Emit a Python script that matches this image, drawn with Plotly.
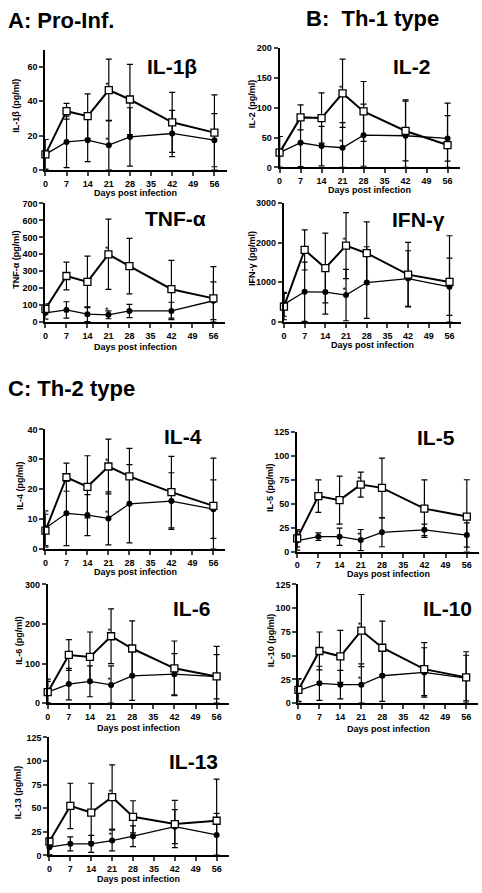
import plotly.graph_objects as go

W, H = 482, 893
FONT = "Arial, Liberation Sans, sans-serif"

days = [0, 7, 14, 21, 28, 42, 56]
x_ticks = [0, 7, 14, 21, 28, 35, 42, 49, 56]

# ---- data (open squares = upper series, filled circles = lower series) ----
il1b_sq = [9, 34.2, 31.3, 46.5, 41, 27.7, 21.7]
il1b_sq_err = [8.7, 4.6, 13, 18, 20.5, 17.5, 22]
il1b_ci = [9, 16.3, 17.3, 14.4, 19.2, 21.2, 17.3]
il1b_ci_err = [8.7, 15, 12.5, 14.4, 17, 13.5, 15.5]

il2_sq = [24.8, 83.7, 82.6, 124, 93.7, 61, 37.5]
il2_sq_err = [27, 21, 42, 57, 50, 50, 70]
il2_ci = [24.8, 41.3, 35.8, 33, 54, 53, 48.5]
il2_ci_err = [27, 40, 33, 42, 52, 60, 38]

tnf_sq = [77.8, 272, 237, 400, 330, 194, 140]
tnf_sq_err = [30, 82, 152, 207, 164, 170, 187]
tnf_ci = [54.5, 72, 46.7, 42.8, 66, 66, 126]
tnf_ci_err = [37, 48, 44, 23, 39, 51, 111]

ifn_sq = [389, 1815, 1359, 1923, 1732, 1193, 1011]
ifn_sq_err = [330, 505, 878, 828, 787, 812, 1160]
ifn_ci = [447, 762, 754, 680, 994, 1094, 887]
ifn_ci_err = [300, 746, 555, 646, 900, 700, 720]

il4_sq = [6.1, 24, 20.8, 27.6, 24.3, 19, 14.4]
il4_sq_err = [5.5, 4.7, 10.4, 9.2, 9.4, 12, 16]
il4_ci = [6.9, 11.9, 11.3, 10.2, 15.1, 16, 13.3]
il4_ci_err = [5.8, 10.8, 6.9, 8.9, 13.1, 9.5, 9.8]

il5_sq = [13.8, 57.9, 53.7, 69.9, 66.5, 44.8, 36.5]
il5_sq_err = [9, 17, 25, 13, 31, 30, 38.5]
il5_ci = [11.4, 15.5, 15.5, 12, 20, 22.7, 17.2]
il5_ci_err = [10, 4, 9, 11, 15, 6, 12.7]

il6_sq = [27.5, 121.7, 116.7, 169, 138, 88, 67.5]
il6_sq_err = [27.5, 39, 63, 69, 70, 69, 76]
il6_ci = [27.5, 48, 55, 46, 69, 73, 66.7]
il6_ci_err = [33, 40, 39, 48, 62, 52, 56]

il10_sq = [13.9, 54.9, 49.3, 76.4, 58.3, 35.8, 27.1]
il10_sq_err = [12, 20, 27.4, 38, 28, 28, 27]
il10_ci = [13.2, 20.8, 19.4, 19.4, 28.8, 32.3, 26.4]
il10_ci_err = [12, 18, 15, 22, 27, 26, 24]

il13_sq = [14.7, 52.4, 45.4, 61.8, 40.9, 33.2, 36.7]
il13_sq_err = [4, 24, 31, 34, 17, 25, 44]
il13_ci = [8.7, 12.2, 12.2, 15.7, 20.3, 30.4, 21.6]
il13_ci_err = [8, 7.5, 9, 11, 11, 18, 23]

# ---- layout geometry (pixels) ----
# name, ytitle, ymax, dtick, x0px, x60px, y0px(bottom), ytop px, label (x,y), ytitle x, days-label y
panels = [
    ("IL-1β", "IL-1β (pg/ml)", 70, 20, 42.7, 224.9, 166.7, 45.3, (170, 62), 13, 190,
     il1b_sq, il1b_sq_err, il1b_ci, il1b_ci_err),
    ("IL-2", "IL-2 (pg/ml)", 200, 50, 278.3, 459.4, 164.3, 43.3, (411, 62), 250, 187,
     il2_sq, il2_sq_err, il2_ci, il2_ci_err),
    ("TNF-α", "TNF-α (pg/ml)", 700, 100, 42.7, 223.8, 320.7, 200.7, (174, 216), 13, 346,
     tnf_sq, tnf_sq_err, tnf_ci, tnf_ci_err),
    ("IFN-γ", "IFN-γ (pg/ml)", 3000, 1000, 282.7, 461.2, 320.7, 200.0, (418, 217), 251, 344,
     ifn_sq, ifn_sq_err, ifn_ci, ifn_ci_err),
    ("IL-4", "IL-4 (pg/ml)", 40, 10, 42.7, 223.8, 550.0, 429.3, (181, 436), 17, 573,
     il4_sq, il4_sq_err, il4_ci, il4_ci_err),
    ("IL-5", "IL-5 (pg/ml)", 125, 25, 296.0, 478.9, 552.7, 431.7, (436, 437), 268, 575,
     il5_sq, il5_sq_err, il5_ci, il5_ci_err),
    ("IL-6", "IL-6 (pg/ml)", 300, 100, 45.0, 227.1, 706.0, 586.0, (190, 610), 16, 731,
     il6_sq, il6_sq_err, il6_ci, il6_ci_err),
    ("IL-10", "IL-10 (pg/ml)", 125, 25, 297.3, 478.1, 706.0, 586.0, (447, 610), 269, 732,
     il10_sq, il10_sq_err, il10_ci, il10_ci_err),
    ("IL-13", "IL-13 (pg/ml)", 125, 25, 46.7, 227.0, 860.0, 740.7, (192, 765), 16, 884,
     il13_sq, il13_sq_err, il13_ci, il13_ci_err),
]

fig = go.Figure()
annotations = []
layout_axes = {}

def px_x(p):
    return p / W

def px_y(p):
    return 1 - p / H

for i, (name, ytitle, ymax, dtick, x0, x60, yb, yt, lab, ytx, dly,
        sq, sq_err, ci, ci_err) in enumerate(panels):
    n = i + 1
    xa = "x" if n == 1 else f"x{n}"
    ya = "y" if n == 1 else f"y{n}"
    xkey = "xaxis" if n == 1 else f"xaxis{n}"
    ykey = "yaxis" if n == 1 else f"yaxis{n}"

    ci_minus = [min(e, v) for e, v in zip(ci_err, ci)]
    sq_minus = [min(e, v) for e, v in zip(sq_err, sq)]

    fig.add_trace(go.Scatter(
        x=days, y=ci, xaxis=xa, yaxis=ya, mode="lines+markers",
        line=dict(color="black", width=1.3),
        marker=dict(symbol="circle", size=6, color="black"),
        error_y=dict(type="data", array=ci_err, arrayminus=ci_minus, color="black",
                     thickness=1.2, width=3),
        cliponaxis=False, showlegend=False, hoverinfo="skip"))
    fig.add_trace(go.Scatter(
        x=days, y=sq, xaxis=xa, yaxis=ya, mode="lines+markers",
        line=dict(color="black", width=2),
        marker=dict(symbol="square", size=7, color="white",
                    line=dict(color="black", width=1.3)),
        error_y=dict(type="data", array=sq_err, arrayminus=sq_minus, color="black",
                     thickness=1.2, width=3),
        cliponaxis=False, showlegend=False, hoverinfo="skip"))
    # significance asterisks at day 21
    fig.add_trace(go.Scatter(
        x=[days[3], days[3]], y=[sq[3], ci[3]], xaxis=xa, yaxis=ya, mode="text",
        text=["*", "*"], textposition="top left",
        textfont=dict(family=FONT, size=9, color="black"),
        cliponaxis=False, showlegend=False, hoverinfo="skip"))

    layout_axes[xkey] = dict(
        domain=[px_x(x0), px_x(x60)], range=[0, 60], anchor=ya,
        tickmode="array", tickvals=x_ticks, ticks="outside", ticklen=4, tickwidth=1.5,
        showline=True, linecolor="black", linewidth=2, showgrid=False, zeroline=False,
        tickfont=dict(family=FONT, size=9, color="black", weight="bold"))
    layout_axes[ykey] = dict(
        domain=[px_y(yb), px_y(yt)], range=[0, ymax], anchor=xa,
        tick0=0, dtick=dtick, ticks="outside", ticklen=4, tickwidth=1.5,
        showline=True, linecolor="black", linewidth=2, showgrid=False, zeroline=False,
        tickfont=dict(family=FONT, size=9, color="black", weight="bold"))

    # big cytokine label
    annotations.append(dict(
        x=px_x(lab[0]), y=px_y(lab[1]), xref="paper", yref="paper",
        text=f"<b>{name}</b>", showarrow=False, xanchor="center", yanchor="middle",
        font=dict(family=FONT, size=21, color="black")))
    # y-axis title
    annotations.append(dict(
        x=px_x(ytx), y=px_y((yb + yt) / 2 - 4), xref="paper", yref="paper",
        text=f"<b>{ytitle}</b>", showarrow=False, textangle=-90,
        xanchor="center", yanchor="middle",
        font=dict(family=FONT, size=9, color="black")))
    # x-axis title
    annotations.append(dict(
        x=px_x((x0 + x60) / 2), y=px_y(dly), xref="paper", yref="paper",
        text="<b>Days post infection</b>", showarrow=False,
        xanchor="center", yanchor="middle",
        font=dict(family=FONT, size=9, color="black")))

# section headers
for txt, xp, yp in [("A: Pro-Inf.", 3, 16), ("B:  Th-1 type", 303, 14), ("C: Th-2 type", 3, 388)]:
    annotations.append(dict(
        x=px_x(xp), y=px_y(yp), xref="paper", yref="paper",
        text=f"<b>{txt}</b>", showarrow=False, xanchor="left", yanchor="middle",
        font=dict(family=FONT, size=22, color="black")))

fig.update_layout(
    width=W, height=H, margin=dict(l=0, r=0, t=0, b=0),
    paper_bgcolor="white", plot_bgcolor="white",
    annotations=annotations, **layout_axes)

fig.write_html(
    "out.html",
    config={"displayModeBar": False},
    post_script="document.body.style.margin='0';document.body.style.overflow='hidden';",
)
